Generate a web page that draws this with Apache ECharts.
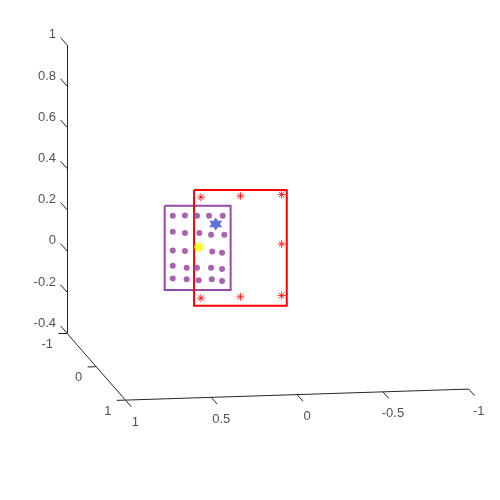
<!DOCTYPE html>
<html>
<head>
<meta charset="utf-8">
<script src="https://cdn.jsdelivr.net/npm/echarts@6/dist/echarts.min.js"></script>
<style>
  html, body { margin: 0; padding: 0; background: #fff; }
  #chart { width: 500px; height: 500px; }
</style>
</head>
<body>
<div id="chart"></div>
<script>
// axis ranges and ticks
const xTicks = [1, 0.5, 0, -0.5, -1];
const yTicks = [-1, 0, 1];
const zTicks = [-0.4, -0.2, 0, 0.2, 0.4, 0.6, 0.8, 1];

// every mark sits in the back plane y = -1
const planeY = -1;

// red square: points and frame corners (TL, TR, BR, BL)
const redX = [0.22, -0.01, -0.25, -0.25, 0.22, -0.01, -0.25];
const redZ = [0.24, 0.24, 0.24, 0.00, -0.25, -0.25, -0.25];
const redBoxX = [0.26, -0.28, -0.28, 0.26];
const redBoxZ = [0.276, 0.262, -0.300, -0.286];

// purple grid: points and frame corners (TL, TR, BR, BL)
const purpleX = [
  0.384, 0.313, 0.243, 0.173, 0.093,
  0.384, 0.313, 0.229, 0.161, 0.084,
  0.384, 0.313, 0.154, 0.097,
  0.384, 0.303, 0.243, 0.161, 0.097,
  0.384, 0.303, 0.233, 0.157, 0.097
];
const purpleZ = [
  0.154, 0.153, 0.151, 0.149, 0.147,
  0.077, 0.069, 0.066, 0.056, 0.054,
  -0.014, -0.019, -0.026, -0.033,
  -0.088, -0.100, -0.102, -0.104, -0.112,
  -0.151, -0.156, -0.163, -0.160, -0.170
];
const purpleBoxX = [0.431, 0.047, 0.047, 0.431];
const purpleBoxZ = [0.204, 0.194, -0.215, -0.205];

// single markers
const yellowPt = [0.233, -0.003];
const bluePt = [0.134, 0.107];

// view: screen position of (x=1, y=-1, z=-0.4) and one unit along each axis
const O = [67, 333.3];
const EX = [-171.7, 5.5];
const EY = [29.2, 33.4];
const EZ = [0, -206];
function proj(x, y, z) {
  return [
    O[0] + (x - 1) * EX[0] + (y + 1) * EY[0] + (z + 0.4) * EZ[0],
    O[1] + (x - 1) * EX[1] + (y + 1) * EY[1] + (z + 0.4) * EZ[1]
  ];
}

const axisColor = '#262626';
const font = 'Liberation Sans, Arial, sans-serif';

// axis lines + ticks
const axisSegs = [
  { coords: [proj(1, -1, -0.4), proj(1, -1, 1)] },   // z
  { coords: [proj(1, -1, -0.4), proj(1, 1, -0.4)] }, // y
  { coords: [proj(1, 1, -0.4), proj(-1, 1, -0.4)] }  // x
];
zTicks.forEach(t => axisSegs.push({ coords: [proj(1, -1, t), proj(1, -1.22, t)] }));
xTicks.forEach(t => axisSegs.push({ coords: [proj(t, 1, -0.4), proj(t, 1.2, -0.4)] }));
yTicks.forEach(t => axisSegs.push({ coords: [proj(1, t, -0.4), proj(1.05, t, -0.4)] }));

function box(bx, bz) {
  const pts = bx.map((x, i) => proj(x, planeY, bz[i]));
  pts.push(pts[0]);
  return [{ coords: pts }];
}

function tickLabels(vals, toPt, align, offset) {
  return {
    type: 'scatter',
    symbolSize: 0,
    silent: true,
    data: vals.map(v => ({ value: toPt(v), name: String(v) })),
    label: {
      show: true,
      position: 'inside',
      formatter: p => p.name,
      color: axisColor,
      fontFamily: font,
      fontSize: 13,
      align: align,
      verticalAlign: 'middle',
      offset: offset
    },
    z: 1
  };
}

const asterisk = 'path://M0,-1L0,1M-1,0L1,0M-0.7,-0.7L0.7,0.7M-0.7,0.7L0.7,-0.7';
const hexagram = 'path://M0,-1L0.866,0.5L-0.866,0.5ZM0,1L-0.866,-0.5L0.866,-0.5Z';

const chart = echarts.init(document.getElementById('chart'));
chart.setOption({
  animation: false,
  backgroundColor: '#ffffff',
  grid: { left: 0, right: 0, top: 0, bottom: 0 },
  xAxis: { type: 'value', min: 0, max: 500, show: false },
  yAxis: { type: 'value', min: 0, max: 500, inverse: true, show: false },
  series: [
    {
      type: 'lines', coordinateSystem: 'cartesian2d', silent: true,
      data: axisSegs,
      lineStyle: { color: axisColor, width: 1, opacity: 1 },
      z: 1
    },
    tickLabels(zTicks, t => proj(1, -1, t), 'right', [-11, -10]),
    tickLabels(xTicks, t => proj(t, 1, -0.4), 'center', [10, 22]),
    tickLabels(yTicks, t => proj(1, t, -0.4), 'right', [-14, 11]),
    {
      type: 'lines', coordinateSystem: 'cartesian2d', polyline: true, silent: true,
      data: box(purpleBoxX, purpleBoxZ),
      lineStyle: { color: '#9848a6', width: 2, opacity: 1 },
      z: 2
    },
    {
      type: 'lines', coordinateSystem: 'cartesian2d', polyline: true, silent: true,
      data: box(redBoxX, redBoxZ),
      lineStyle: { color: '#ff0000', width: 2, opacity: 1 },
      z: 3
    },
    {
      type: 'scatter',
      data: purpleX.map((x, i) => proj(x, planeY, purpleZ[i])),
      symbol: 'circle', symbolSize: 6,
      itemStyle: { color: '#933c9d' },
      z: 4
    },
    {
      type: 'scatter',
      data: redX.map((x, i) => proj(x, planeY, redZ[i])),
      symbol: asterisk, symbolSize: 8,
      itemStyle: { color: 'rgba(0,0,0,0)', borderColor: '#ff0000', borderWidth: 1 },
      z: 5
    },
    {
      type: 'scatter',
      data: [proj(yellowPt[0], planeY, yellowPt[1])],
      symbol: 'circle', symbolSize: 9,
      itemStyle: { color: '#ffff00' },
      z: 6
    },
    {
      type: 'scatter',
      data: [proj(bluePt[0], planeY, bluePt[1])],
      symbol: hexagram, symbolSize: 13,
      itemStyle: { color: '#3a4fd0' },
      z: 7
    }
  ]
});
</script>
</body>
</html>
